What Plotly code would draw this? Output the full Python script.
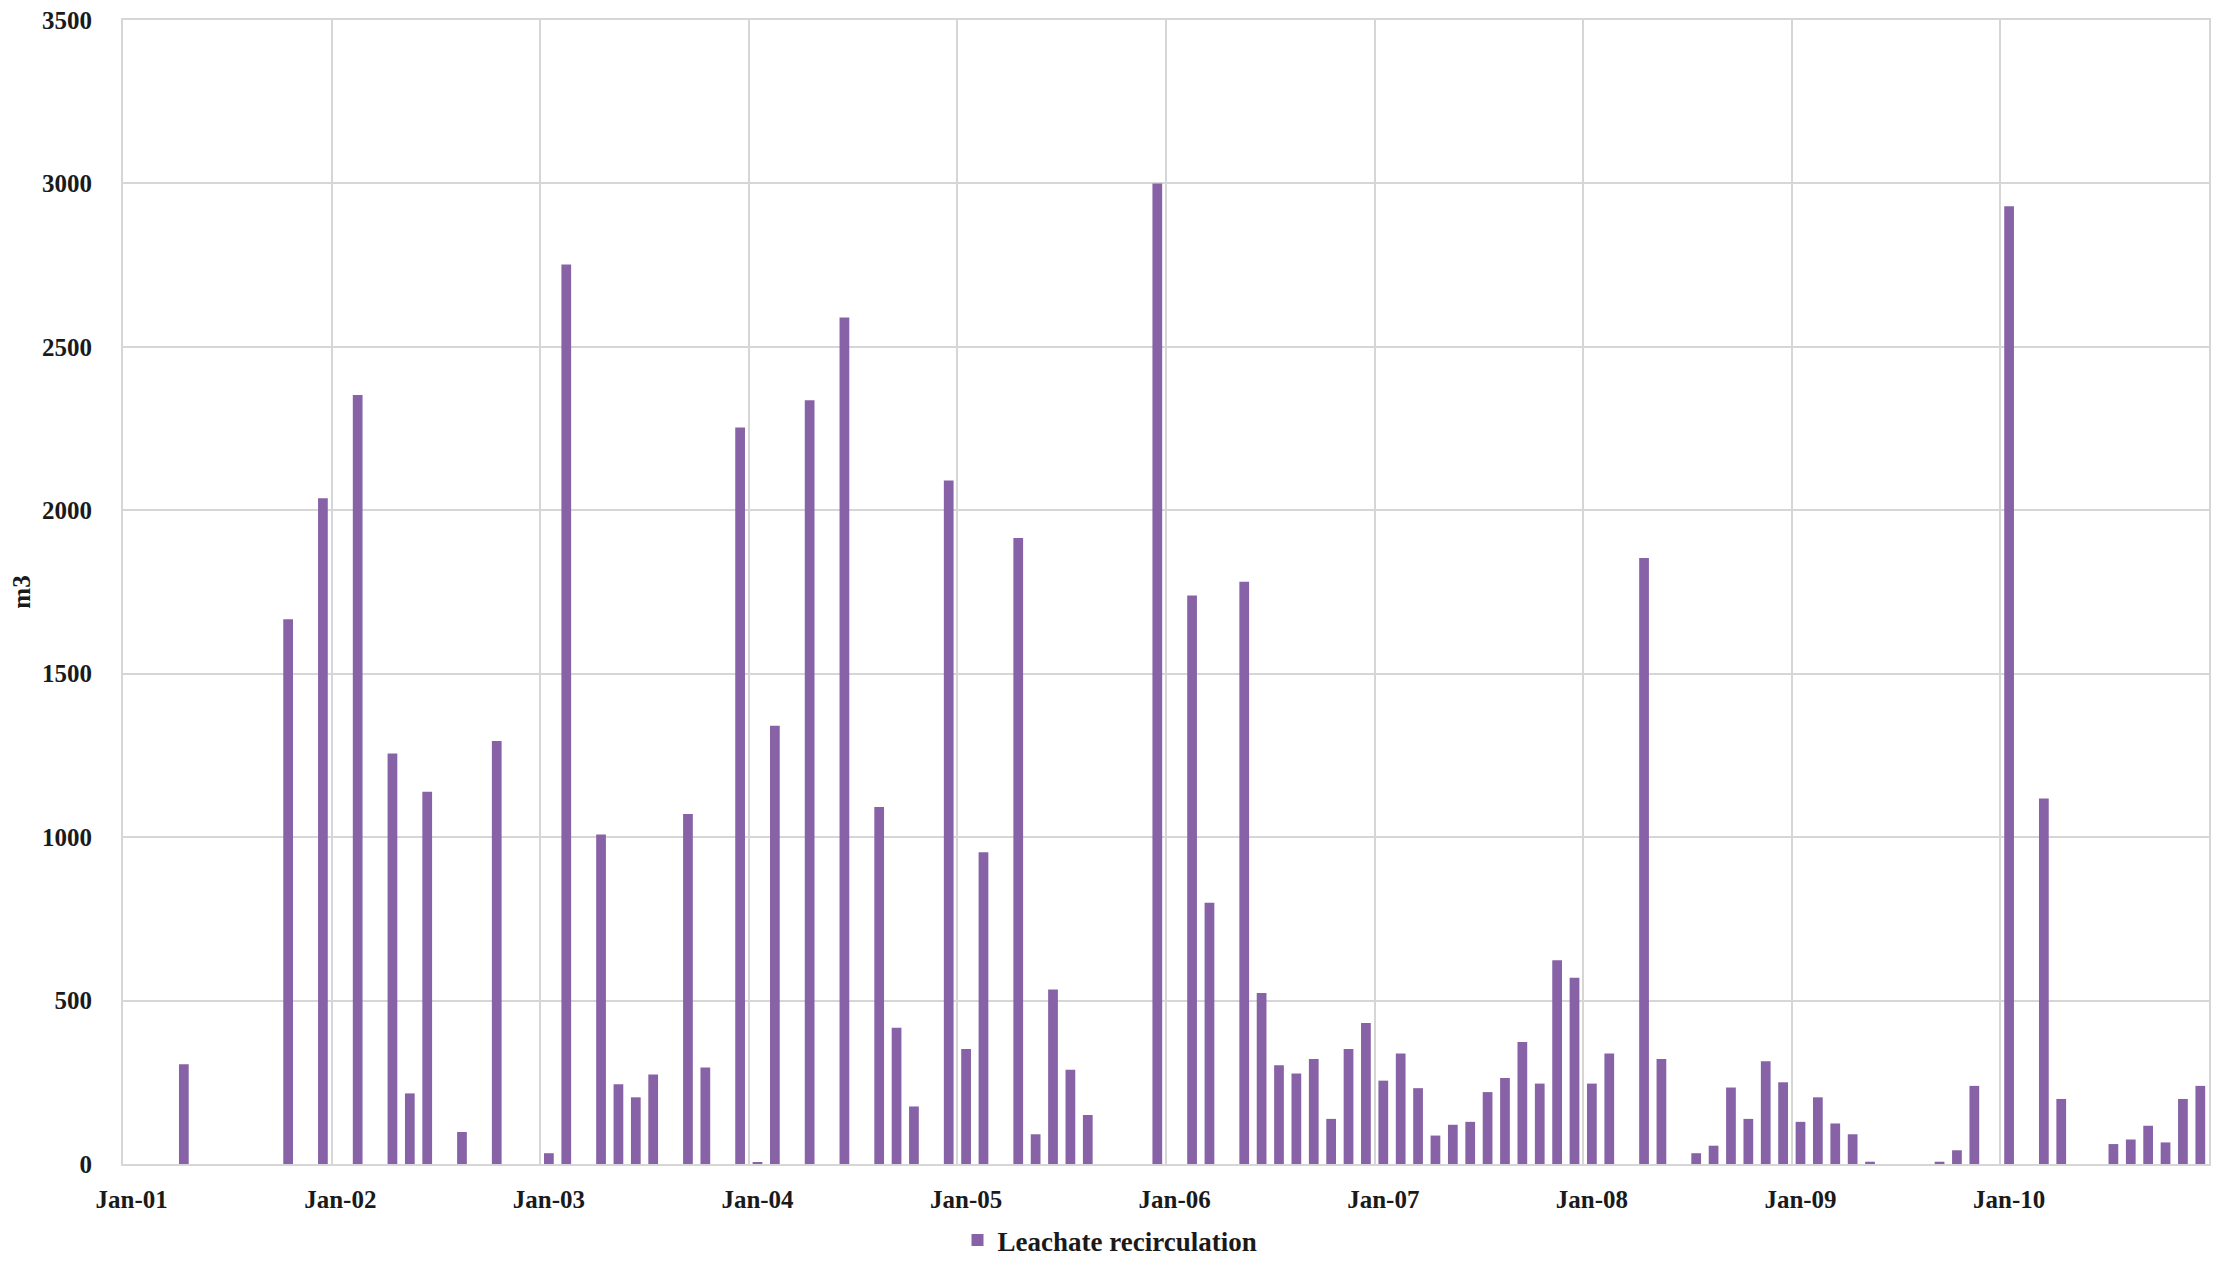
import plotly.graph_objects as go

# ---------- data ------------------------------------------------------------
years = ["01", "02", "03", "04", "05", "06", "07", "08", "09", "10"]
month_names = ["Jan", "Feb", "Mar", "Apr", "May", "Jun",
               "Jul", "Aug", "Sep", "Oct", "Nov", "Dec"]
months = [f"{m}-{y}" for y in years for m in month_names]

# monthly leachate recirculation, m3 (0 = no bar)
recirc_2001 = [0, 0, 0, 305, 0, 0, 0, 0, 0, 1667, 0, 2037]
recirc_2002 = [0, 2353, 0, 1256, 216, 1139, 0, 98, 0, 1294, 0, 0]
recirc_2003 = [33, 2752, 0, 1008, 244, 204, 274, 0, 1071, 295, 0, 2253]
recirc_2004 = [5, 1341, 0, 2337, 0, 2590, 0, 1092, 417, 176, 0, 2091]
recirc_2005 = [352, 954, 0, 1915, 91, 534, 288, 150, 0, 0, 0, 3000]
recirc_2006 = [0, 1739, 799, 0, 1781, 523, 302, 277, 321, 138, 352, 431]
recirc_2007 = [255, 338, 232, 87, 120, 129, 220, 263, 373, 246, 623, 570]
recirc_2008 = [246, 338, 0, 1854, 321, 0, 33, 56, 234, 138, 314, 250]
recirc_2009 = [129, 204, 124, 91, 7, 0, 0, 0, 7, 42, 239, 0]
recirc_2010 = [2930, 0, 1118, 199, 0, 0, 61, 75, 117, 66, 199, 239]

recirculation = (recirc_2001 + recirc_2002 + recirc_2003 + recirc_2004
                 + recirc_2005 + recirc_2006 + recirc_2007 + recirc_2008
                 + recirc_2009 + recirc_2010)

y_ticks = [0, 500, 1000, 1500, 2000, 2500, 3000, 3500]

# ---------- figure ----------------------------------------------------------
BAR_COLOR = "#8762a6"
GRID_COLOR = "#d6d6d6"
FONT = "Liberation Serif"

x_pos = list(range(len(months)))
jan_pos = [i for i, m in enumerate(months) if m.startswith("Jan")]

fig = go.Figure()
fig.add_trace(
    go.Bar(
        x=x_pos,
        y=recirculation,
        name="Leachate recirculation",
        marker_color=BAR_COLOR,
        marker_line_width=0,
        width=0.56,
        customdata=months,
        hovertemplate="%{customdata}: %{y} m3<extra></extra>",
    )
)

# page body has an 8px margin, so the figure is a bit smaller than the window
fig.update_layout(
    width=2204,
    height=1257,
    margin=dict(l=115, r=3, t=12, b=101),
    plot_bgcolor="white",
    paper_bgcolor="white",
    font=dict(family=FONT, size=25, color="#1a1a1a"),
    showlegend=True,
    legend=dict(
        orientation="h",
        xref="container",
        yref="container",
        x=0.5,
        xanchor="center",
        y=0,
        yanchor="bottom",
        font=dict(family=FONT, size=27, color="#1a1a1a", weight="bold"),
    ),
)

fig.update_xaxes(
    range=[-0.5, len(months) - 0.5],
    tickmode="array",
    tickvals=jan_pos,
    ticktext=[months[i] for i in jan_pos],
    tickfont=dict(family=FONT, size=25, weight="bold"),
    ticks="",
    ticklabelstandoff=12,
    showgrid=False,
    minor=dict(tick0=-0.5, dtick=12, showgrid=True,
               gridcolor=GRID_COLOR, gridwidth=2),
    showline=True,
    linecolor=GRID_COLOR,
    linewidth=2,
    mirror=True,
    zeroline=False,
    automargin=False,
)

fig.update_yaxes(
    range=[0, 3500],
    tickmode="array",
    tickvals=y_ticks,
    ticktext=[str(v) for v in y_ticks],
    tickfont=dict(family=FONT, size=25, weight="bold"),
    ticks="",
    ticklabelstandoff=24,
    ticklabeloverflow="allow",
    showgrid=True,
    gridcolor=GRID_COLOR,
    gridwidth=1.5,
    showline=True,
    linecolor=GRID_COLOR,
    linewidth=2,
    mirror=True,
    zeroline=False,
    automargin=False,
    title=dict(text="m3", standoff=10,
               font=dict(family=FONT, size=25, weight="bold")),
)

fig.write_html("out.html")
